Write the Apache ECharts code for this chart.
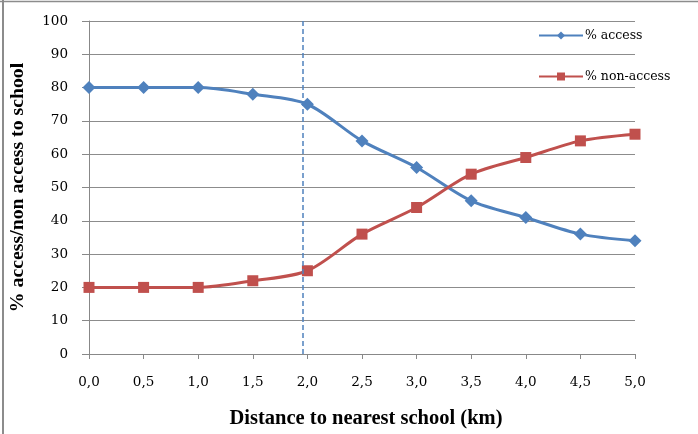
<!DOCTYPE html>
<html><head><meta charset="utf-8">
<script src="https://cdn.jsdelivr.net/npm/echarts@6/dist/echarts.min.js"></script>
<style>html,body{margin:0;padding:0;background:#fff}#c{width:698px;height:434px}</style>
</head><body><div id="c"></div>
<script>
var distances = [0, 0.5, 1.0, 1.5, 2.0, 2.5, 3.0, 3.5, 4.0, 4.5, 5.0];
var accessPct = [80, 80, 80, 78, 75, 64, 56, 46, 41, 36, 34];
var nonAccessPct = [20, 20, 20, 22, 25, 36, 44, 54, 59, 64, 66];
var cutoffDistance = 1.96;

var serif = "'DejaVu Serif','Liberation Serif',serif";
var titleSerif = "'Liberation Serif','DejaVu Serif',serif";
var chart = echarts.init(document.getElementById('c'));
function pairs(v){ return distances.map(function(d,i){ return [d, v[i]]; }); }
chart.setOption({
  animation: false,
  backgroundColor: '#fff',
  graphic: [
    {type:'line', shape:{x1:3,y1:0,x2:3,y2:434}, style:{stroke:'#8c8c8c', lineWidth:2}},
    {type:'line', shape:{x1:0,y1:1.5,x2:698,y2:1.5}, style:{stroke:'#8c8c8c', lineWidth:1.5}}
  ],
  grid: {left: 88, right: 63, top: 21, bottom: 80},
  legend: {
    orient: 'vertical', left: 533, top: 24, itemGap: 28,
    itemWidth: 44, itemHeight: 10,
    textStyle: {fontFamily: serif, fontSize: 12.5, color: '#000', padding: [0,0,0,-3]},
    data: ['% access', '% non-access']
  },
  xAxis: {
    type: 'value', min: 0, max: 5, interval: 0.5,
    name: 'Distance to nearest school (km)', nameLocation: 'middle', nameGap: 54,
    nameTextStyle: {fontFamily: titleSerif, fontSize: 20.5, fontWeight: 'bold', color: '#000', padding: [0,0,0,8]},
    axisLine: {show: true, lineStyle: {color: '#888'}},
    axisTick: {show: true, length: 5, inside: false, lineStyle: {color: '#888'}},
    axisLabel: {fontFamily: serif, fontSize: 13.5, color: '#000', margin: 21,
      formatter: function(v){ return v.toFixed(1).replace('.', ','); }},
    splitLine: {show: false}
  },
  yAxis: {
    type: 'value', min: 0, max: 100, interval: 10,
    name: '% access/non access to school', nameLocation: 'middle', nameGap: 61,
    nameTextStyle: {fontFamily: titleSerif, fontSize: 19.8, fontWeight: 'bold', color: '#000'},
    axisLine: {show: true, lineStyle: {color: '#888'}},
    axisTick: {show: true, length: 7, lineStyle: {color: '#888'}},
    axisLabel: {fontFamily: serif, fontSize: 13.5, color: '#000', margin: 21},
    splitLine: {show: true, lineStyle: {color: '#8c8c8c', width: 1}}
  },
  series: [
    {
      name: '% access', type: 'line', smooth: 0.3,
      data: pairs(accessPct),
      symbol: 'diamond', symbolSize: 13,
      itemStyle: {color: '#4F81BD'},
      lineStyle: {color: '#4F81BD', width: 3},
      markLine: {
        silent: true, symbol: 'none', label: {show: false},
        lineStyle: {color: '#4F81BD', type: [5, 3], width: 1.5},
        data: [[{coord: [cutoffDistance, 0]}, {coord: [cutoffDistance, 100]}]]
      }
    },
    {
      name: '% non-access', type: 'line', smooth: 0.3,
      data: pairs(nonAccessPct),
      symbol: 'rect', symbolSize: 11,
      itemStyle: {color: '#C0504D'},
      lineStyle: {color: '#C0504D', width: 3}
    }
  ]
});
</script></body></html>
